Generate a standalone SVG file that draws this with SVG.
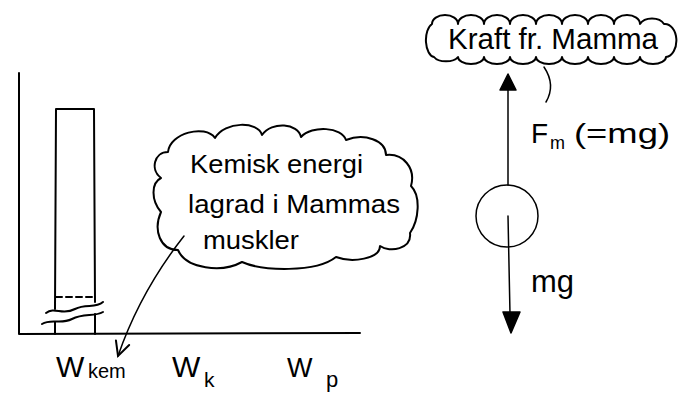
<svg xmlns="http://www.w3.org/2000/svg" width="685" height="404" viewBox="0 0 685 404">
<style>
  .ln { fill: none; stroke: #000; stroke-width: 2; stroke-linecap: round; stroke-linejoin: round; }
  .thin { fill: none; stroke: #000; stroke-width: 1.5; stroke-linecap: round; stroke-linejoin: round; }
  .cloud { fill: #fff; stroke: #000; stroke-width: 2; stroke-linejoin: round; }
  text { font-family: "Liberation Sans", "DejaVu Sans", sans-serif; fill: #000; }
</style>
<defs>
  <marker id="openV" viewBox="0 0 20 20" refX="18" refY="10" markerWidth="20" markerHeight="20" markerUnits="userSpaceOnUse" orient="auto">
    <path d="M4,3 L18,10 L4,17" fill="none" stroke="#000" stroke-width="2" stroke-linecap="round"/>
  </marker>
</defs>
<rect width="685" height="404" fill="#fff"/>

<g id="chart">
  <path class="ln" d="M19,73 L19,334 L360,333"/>
  <g id="bar">
    <path class="ln" d="M56,109 L94,109 M56,109 L55,309 M94,109 L95,302 M55,322 L55,334 M95,314 L95,334"/>
    <path class="ln" d="M56,297 L93,297" stroke-dasharray="6,4"/>
    <path class="ln" d="M46,313 C55,306 62,316 75,309 C86,303 95,309 103,302"/>
    <path class="ln" d="M42,324 C52,318 60,325 72,319 C84,313 94,317 103,312"/>
  </g>
  <g id="label-wkem"><text x="56" y="377" font-size="30">W</text><text x="88" y="378" font-size="20">kem</text></g>
  <g id="label-wk"><text x="172" y="377" font-size="30">W</text><text x="204" y="387" font-size="21">k</text></g>
  <g id="label-wp"><text x="287" y="377" font-size="27">W</text><text x="326" y="387" font-size="22">p</text></g>
</g>

<g id="cloud-kemisk">
  <path class="cloud" d="M168,152 C170,133 205,124 215,138 C225,121 258,121 262,135 C272,121 298,123 301,137 C312,125 342,127 346,140 C364,133 386,140 386,155 C403,153 416,168 411,186 C421,196 419,220 410,233 C412,249 390,253 380,246 C380,259 352,263 336,257 C316,273 262,271 242,262 C222,273 186,269 178,250 C160,250 153,230 161,212 C151,200 151,183 161,178 C150,170 154,152 168,152 Z"/>
  <text x="190" y="173" font-size="26" textLength="173" lengthAdjust="spacingAndGlyphs">Kemisk energi</text>
  <text x="188" y="213" font-size="26" textLength="212" lengthAdjust="spacingAndGlyphs">lagrad i Mammas</text>
  <text x="203" y="249" font-size="26" textLength="96" lengthAdjust="spacingAndGlyphs">muskler</text>
</g>

<g id="cloud-kraft">
  <path class="cloud" d="M432,24 a13,9 0 0,1 26,0 a13,9 0 0,1 26,0 a13,9 0 0,1 26,0 a13,9 0 0,1 26,0 a13,9 0 0,1 26,0 a13,9 0 0,1 26,0 a13,9 0 0,1 26,0 a13,9 0 0,1 26,0 a13,9 0 0,1 24,0 a11,16 0 0,1 2,33 a13,7 0 0,1 -26,0 a13,7 0 0,1 -26,0 a13,7 0 0,1 -26,0 a13,7 0 0,1 -26,0 a13,7 0 0,1 -26,0 a13,7 0 0,1 -26,0 a13,7 0 0,1 -26,0 a13,7 0 0,1 -26,0 a13,7 0 0,1 -24,0 a9,17 0 0,1 -2,-33 Z"/>
  <text x="448" y="49" font-size="29" textLength="210" lengthAdjust="spacingAndGlyphs">Kraft fr. Mamma</text>
</g>

<g id="ball">
  <circle class="thin" cx="507" cy="216" r="31" fill="none"/>
</g>

<g id="connectors">
  <path class="thin" d="M184,236 Q140,292 118,356" marker-end="url(#openV)"/>
  <path class="thin" d="M544,67 Q556,85 546,102"/>
  <path class="thin" d="M508,185 L508,88"/>
  <path d="M508,74 L516,90 L500,90 Z" fill="#000" stroke="#000" stroke-width="1.5" stroke-linejoin="round"/>
  <path class="thin" d="M508,216 L510,314"/>
  <path d="M503,312 L520,312 L511,333 Z" fill="#000" stroke="#000" stroke-width="1.5" stroke-linejoin="round"/>
</g>

<g id="labels-forces">
  <text x="531" y="143" font-size="28">F</text>
  <text x="550" y="149" font-size="18">m</text>
  <text x="574" y="143" font-size="28" textLength="96" lengthAdjust="spacingAndGlyphs">(=mg)</text>
  <text x="531" y="292" font-size="32" textLength="43" lengthAdjust="spacingAndGlyphs">mg</text>
</g>
</svg>
